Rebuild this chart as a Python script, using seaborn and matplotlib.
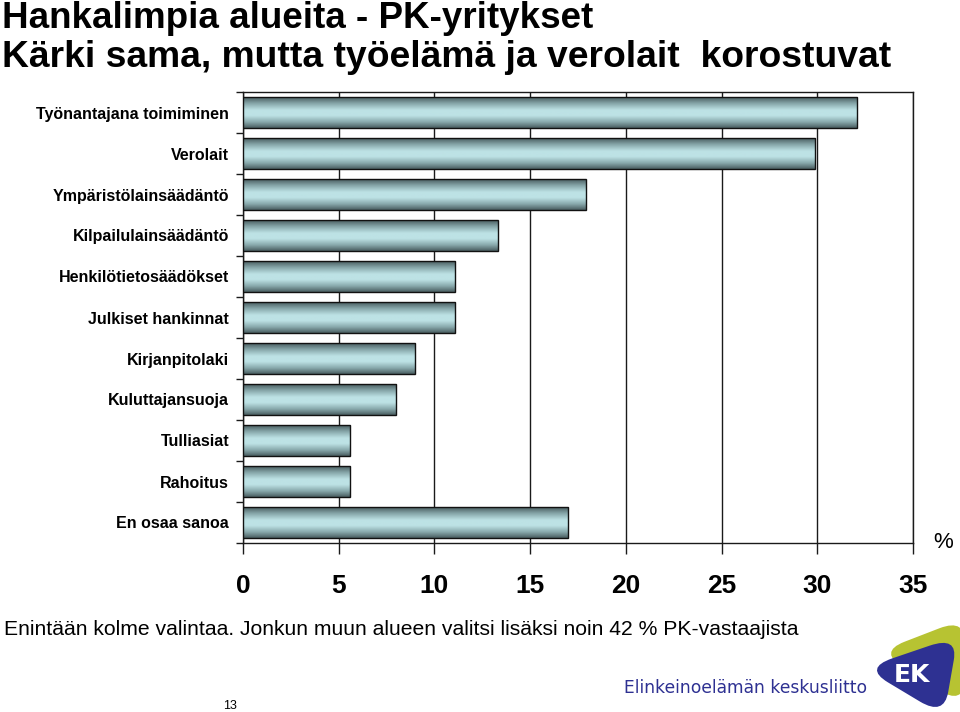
import numpy as np
import pandas as pd
import matplotlib
matplotlib.use("Agg")
import matplotlib.pyplot as plt
import seaborn as sns
from matplotlib.colors import LinearSegmentedColormap
from matplotlib.patches import PathPatch
from matplotlib.path import Path

categories = ["Työnantajana toimiminen", "Verolait", "Ympäristölainsäädäntö",
              "Kilpailulainsäädäntö", "Henkilötietosäädökset", "Julkiset hankinnat",
              "Kirjanpitolaki", "Kuluttajansuoja", "Tulliasiat", "Rahoitus", "En osaa sanoa"]
values = [32.1, 29.9, 17.9, 13.3, 11.1, 11.1, 9.0, 8.0, 5.6, 5.6, 17.0]
x_ticks = [0, 5, 10, 15, 20, 25, 30, 35]

title1 = "Hankalimpia alueita - PK-yritykset"
title2 = "Kärki sama, mutta työelämä ja verolait  korostuvat"
footnote = "Enintään kolme valintaa. Jonkun muun alueen valitsi lisäksi noin 42 % PK-vastaajista"

sns.set_theme(style="white")
plt.rcParams['font.family'] = ['Liberation Sans', 'DejaVu Sans']
plt.rcParams['text.color'] = 'black'
plt.rcParams['xtick.color'] = 'black'
plt.rcParams['ytick.color'] = 'black'
plt.rcParams['axes.labelcolor'] = 'black'

W, H = 960, 712
fig = plt.figure(figsize=(9.6, 7.12), dpi=100)
fig.patch.set_facecolor("white")
ax = fig.add_axes([243 / W, 1 - 543 / H, (913 - 243) / W, (543 - 92) / H])

df = pd.DataFrame({"cat": categories, "val": values})
sns.barplot(data=df, x="val", y="cat", ax=ax, orient="h", width=0.74,
            color="#b9e0e3", edgecolor="#111111", linewidth=1.0, zorder=3,
            saturation=1)

cmap = LinearSegmentedColormap.from_list(
    "bar", [(0.0, "#4a5e61"), (0.2, "#86a6a9"), (0.42, "#bde2e5"),
            (0.6, "#bde2e5"), (0.82, "#86a6a9"), (1.0, "#4a5e61")])
grad = np.linspace(0, 1, 64).reshape(-1, 1)
for p in list(ax.patches):
    x0, y0 = p.get_x(), p.get_y()
    w, h = p.get_width(), p.get_height()
    ax.imshow(grad, extent=[x0, x0 + w, y0 + h, y0], aspect="auto", cmap=cmap,
              interpolation="bilinear", zorder=3)
    p.set_facecolor("none")
    p.set_zorder(4)

ax.set_xlim(0, 35)
ax.set_ylim(len(categories) - 0.5, -0.5)
ax.set_xlabel("")
ax.set_ylabel("")

for xv in x_ticks:
    ax.axvline(xv, color="#1a1a1a", lw=1.0, zorder=1)

for s in ax.spines.values():
    s.set_visible(True)
    s.set_color("#1a1a1a")
    s.set_linewidth(1.0)

ax.set_xticks(x_ticks)
ax.set_xticklabels([str(v) for v in x_ticks], fontsize=19, fontweight="bold")
ax.tick_params(axis="x", which="major", direction="out", length=8, width=1,
               color="#1a1a1a", pad=14, bottom=True)
ax.set_yticks(range(len(categories)))
ax.set_yticklabels(categories, fontsize=11.5, fontweight="bold")
ax.tick_params(axis="y", which="major", length=0, pad=10, left=True)
ax.set_yticks(np.arange(-0.5, len(categories), 1), minor=True)
ax.tick_params(axis="y", which="minor", direction="out", length=5, width=1,
               color="#1a1a1a", left=True)

fig.text(943 / W, 1 - 543 / H, "%", fontsize=16, ha="center", va="center")
fig.text(2 / W, 1 - 28 / H, title1, fontsize=26.5, fontweight="bold", ha="left", va="baseline")
fig.text(2 / W, 1 - 67 / H, title2, fontsize=26.8, fontweight="bold", ha="left", va="baseline")
fig.text(4 / W, 1 - 635 / H, footnote, fontsize=15.2, ha="left", va="baseline")
fig.text(230 / W, 1 - 706 / H, "13", fontsize=9, ha="center", va="center")
fig.text(746 / W, 1 - 688 / H, "Elinkeinoelämän keskusliitto", fontsize=12.3,
         ha="center", va="center", color="#2e3192", family=["DejaVu Sans"])


def rounded_path(verts, t=0.3):
    verts = np.asarray(verts, float)
    n = len(verts)
    codes, pts = [], []
    for i in range(n):
        v = verts[i]
        p = verts[i - 1]
        q = verts[(i + 1) % n]
        a = v + (p - v) * t
        b = v + (q - v) * t
        if i == 0:
            pts.append(a); codes.append(Path.MOVETO)
        else:
            pts.append(a); codes.append(Path.LINETO)
        pts.extend([v, b]); codes.extend([Path.CURVE3, Path.CURVE3])
    pts.append(pts[0]); codes.append(Path.CLOSEPOLY)
    return Path(pts, codes)


# EK logo
lax = fig.add_axes([850 / W, 0, 110 / W, 100 / H])
lax.set_xlim(850, 960)
lax.set_ylim(712, 612)
lax.axis("off")
yellow = PathPatch(rounded_path([(878, 652), (966, 618), (964, 706)], 0.3),
                   facecolor="#b7c332", edgecolor="none")
lax.add_patch(yellow)
blue = PathPatch(rounded_path([(864, 668), (958, 636), (944, 716)], 0.3),
                 facecolor="#2e3192", edgecolor="none")
lax.add_patch(blue)
lax.text(912, 675, "EK", color="white", fontsize=18, fontweight="bold",
         ha="center", va="center", family=["DejaVu Sans"])

fig.savefig("out.png", dpi=100)
